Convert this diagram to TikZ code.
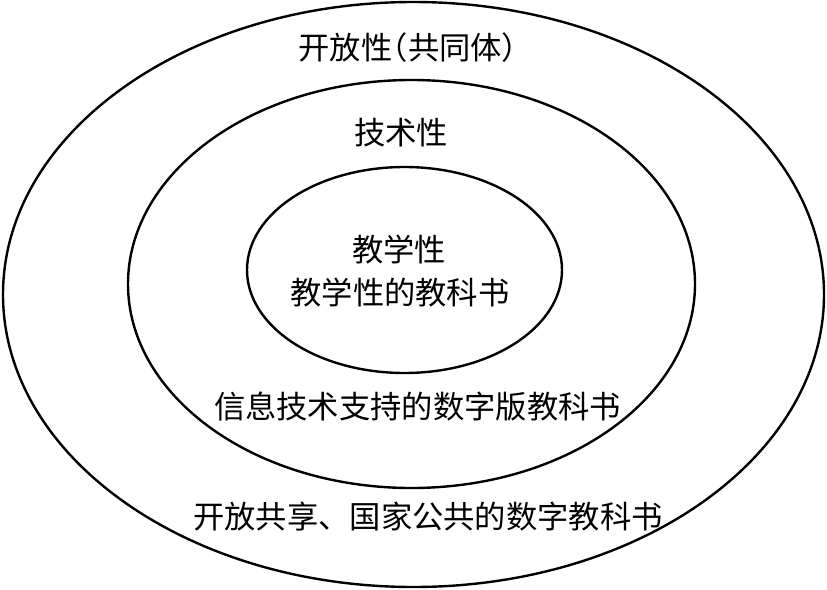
\documentclass[tikz,border=0pt]{standalone}
\usepackage{fontspec}
\newfontfamily\cjk{Noto Sans CJK SC}
\newfontfamily\cjkhalt[RawFeature=+halt]{Noto Sans CJK SC}
\usetikzlibrary{shapes.geometric}
\tikzset{
  ring/.style={ellipse, draw=black, line width=2.4pt, inner sep=0pt},
  lbl/.style={font=\cjk\fontsize{31.3pt}{36pt}\selectfont, inner sep=0pt, anchor=base, text=black}
}
\begin{document}
\begin{tikzpicture}[x=1pt,y=-1pt]
\useasboundingbox (0,0) rectangle (827,589);
\node[ring, minimum width=821pt, minimum height=585pt] (outer) at (413.5,294.5) {};
\node[ring, minimum width=567pt, minimum height=408pt] (middle) at (411.5,284) {};
\node[ring, minimum width=315pt, minimum height=206pt] (inner) at (404.5,270) {};
\node[lbl, font=\cjkhalt\fontsize{31.3pt}{36pt}\selectfont] (t1) at (408,59) {开放性（共同体）};
\node[lbl] (t2) at (401,144) {技术性};
\node[lbl] (t3) at (399,261) {教学性};
\node[lbl] (t4) at (400,304) {教学性的教科书};
\node[lbl] (t5) at (417.5,418) {信息技术支持的数字版教科书};
\node[lbl] (t6) at (428,528) {开放共享、国家公共的数字教科书};
\end{tikzpicture}
\end{document}
